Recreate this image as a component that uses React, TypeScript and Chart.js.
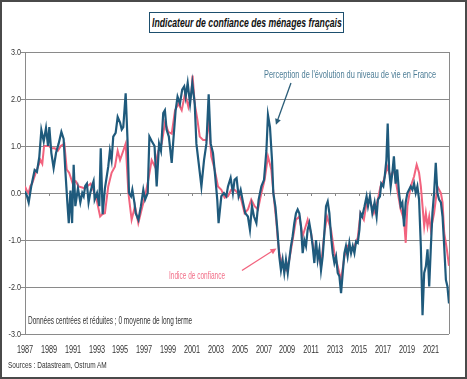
import React, { useEffect, useLayoutEffect, useRef, useState } from "react";
import { Chart, registerables } from "chart.js";

Chart.register(...registerables);

// ---------- DATA ----------
const perceptionDates = [
  1987.0, 1987.15, 1987.31, 1987.53, 1987.81, 1988.0, 1988.2, 1988.37, 1988.57, 1988.76, 1988.93,
  1989.04, 1989.21, 1989.4, 1989.6, 1989.82, 1990.05, 1990.24, 1990.38, 1990.55, 1990.67, 1990.81,
  1990.95, 1991.08, 1991.22, 1991.44, 1991.64, 1991.8, 1991.92, 1992.05, 1992.19, 1992.33, 1992.47,
  1992.61, 1992.75, 1992.84, 1993.04, 1993.23, 1993.35, 1993.51, 1993.7, 1993.98, 1994.12, 1994.26,
  1994.4, 1994.6, 1994.77, 1994.97, 1995.11, 1995.24, 1995.44, 1995.6, 1995.72, 1995.89, 1996.0,
  1996.17, 1996.28, 1996.51, 1996.72, 1996.92, 1997.07, 1997.29, 1997.43, 1997.63, 1997.86, 1998.04,
  1998.24, 1998.4, 1998.59, 1998.73, 1998.87, 1999.06, 1999.3, 1999.44, 1999.63, 1999.79, 1999.99,
  2000.18, 2000.35, 2000.47, 2000.64, 2000.84, 2001.03, 2001.23, 2001.37, 2001.56, 2001.79, 2002.01,
  2002.21, 2002.4, 2002.57, 2002.76, 2002.95, 2003.12, 2003.23, 2003.46, 2003.68, 2003.88, 2004.02,
  2004.24, 2004.43, 2004.57, 2004.74, 2004.91, 2005.08, 2005.28, 2005.47, 2005.69, 2005.86, 2006.03,
  2006.2, 2006.4, 2006.59, 2006.82, 2007.04, 2007.24, 2007.37, 2007.54, 2007.71, 2007.82, 2008.0,
  2008.18, 2008.32, 2008.46, 2008.6, 2008.74, 2008.88, 2009.03, 2009.16, 2009.3, 2009.44, 2009.58,
  2009.72, 2009.86, 2010.0, 2010.14, 2010.28, 2010.42, 2010.56, 2010.7, 2010.84, 2010.98, 2011.12,
  2011.26, 2011.4, 2011.54, 2011.68, 2011.82, 2011.96, 2012.1, 2012.24, 2012.38, 2012.52, 2012.66,
  2012.8, 2012.94, 2013.08, 2013.22, 2013.36, 2013.5, 2013.64, 2013.78, 2013.91, 2014.05, 2014.2,
  2014.34, 2014.48, 2014.62, 2014.76, 2014.9, 2015.04, 2015.13, 2015.27, 2015.47, 2015.64, 2015.76,
  2015.92, 2016.12, 2016.31, 2016.48, 2016.59, 2016.76, 2016.87, 2017.04, 2017.16, 2017.3, 2017.41,
  2017.53, 2017.66, 2017.8, 2017.93, 2018.07, 2018.21, 2018.36, 2018.5, 2018.64, 2018.78, 2018.92,
  2019.06, 2019.2, 2019.34, 2019.48, 2019.62, 2019.76, 2019.9, 2020.04, 2020.19, 2020.33, 2020.47,
  2020.61, 2020.75, 2020.89, 2021.03, 2021.16, 2021.3, 2021.44, 2021.58, 2021.72, 2021.87, 2022.01,
  2022.15, 2022.29, 2022.42, 2022.55,
];
const perceptionValues = [
  0.03, -0.05, -0.2, 0.15, 0.49, 0.45, 0.77, 1.34, 1.1, 1.38, 1.0,
  1.4, 0.85, 0.53, 0.85, 1.05, 1.3, 1.15, 0.49, -0.2, -0.64, 0.05,
  -0.64, 0.6, -0.28, 0.1, -0.2, 0.0, -0.07, 0.15, 0.2, -0.2, 0.0,
  0.14, 0.25, -0.14, 0.0, -0.28, 0.95, -0.45, 0.1, 0.56, 0.9, 0.7,
  1.2, 1.28, 1.62, 1.5, 1.35, 1.4, 2.12, 1.1, 0.0, -0.07, 0.07,
  -0.2, -0.43, -0.57, -0.28, 0.07, -0.14, 0.0, 1.2, 1.1, 1.0, 0.14,
  1.05, 0.9, 1.7, 1.76, 1.35, 1.2, 0.64, 1.13, 1.76, 2.05, 1.9,
  2.2, 2.27, 2.05, 2.34, 1.9, 2.34, 1.9, 1.05, 0.64, 0.14, 0.7,
  1.05, 2.1, 1.05, 0.85, 0.35, -0.14, -0.64, -0.07, 0.0, -0.07, 0.14,
  0.32, 0.0, 0.28, 0.32, -0.07, 0.07, -0.2, -0.43, -0.5, -0.78, -0.28,
  -0.5, -0.64, -0.14, 0.14, 0.28, 0.9, 1.66, 1.4, 0.7, 0.0, -0.3,
  -0.85, -1.35, -1.64, -1.42, -1.7, -1.42, -1.7, -1.42, -1.13, -0.92, -0.64,
  -0.43, -0.35, -0.43, -0.71, -1.28, -1.0, -1.13, -0.78, -0.64, -0.85, -1.13,
  -1.49, -1.0, -1.42, -1.2, -1.64, -1.35, -0.85, -0.28, -0.18, -0.43, -0.92,
  -1.28, -1.49, -1.35, -1.7, -1.77, -2.13, -1.7, -1.28, -1.13, -1.35, -1.06,
  -1.28, -1.13, -1.28, -1.03, -1.06, -0.78, -0.43, -0.5, -0.28, -0.07, -0.28,
  -0.07, -0.43, -0.2, -0.5, -0.14, -0.07, 0.2, 0.14, 0.35, 0.7, 1.48,
  0.5, 0.14, 0.43, 0.78, 0.2, 0.5, 0.0, -0.28, -0.2, -0.71, -0.2,
  0.0, 0.07, 0.14, 0.07, 0.2, 0.0, 0.14, -0.14, -1.14, -2.6, -1.7,
  -1.56, -1.2, -1.99, -1.14, -0.43, 0.0, 0.64, 0.0, -0.14, -0.2, -0.5,
  -1.14, -1.85, -1.99, -2.35,
];

const confidenceDates = [
  1987.0, 1987.15, 1987.3, 1987.45, 1987.6, 1988.0, 1988.3, 1988.45, 1988.6, 1989.0, 1989.25,
  1989.5, 1989.75, 1990.0, 1990.3, 1990.5, 1990.7, 1991.0, 1991.25, 1991.5, 1992.0, 1992.25,
  1992.5, 1992.75, 1993.0, 1993.3, 1993.5, 1993.7, 1993.98, 1994.26, 1994.54, 1994.77, 1994.97,
  1995.24, 1995.44, 1995.67, 1995.94, 1996.22, 1996.5, 1996.78, 1997.06, 1997.34, 1997.62, 1997.9,
  1998.18, 1998.46, 1998.74, 1999.02, 1999.3, 1999.58, 1999.86, 2000.14, 2000.42, 2000.7, 2000.95,
  2001.05, 2001.23, 2001.46, 2001.65, 2001.93, 2002.21, 2002.4, 2002.62, 2002.9, 2003.18, 2003.46,
  2003.74, 2004.02, 2004.29, 2004.57, 2004.85, 2005.13, 2005.41, 2005.69, 2005.97, 2006.25, 2006.53,
  2006.82, 2007.09, 2007.37, 2007.65, 2007.88, 2008.07, 2008.2, 2008.32, 2008.6, 2008.88, 2009.16,
  2009.44, 2009.72, 2010.0, 2010.28, 2010.7, 2010.98, 2011.26, 2011.54, 2011.82, 2012.1, 2012.32,
  2012.66, 2012.94, 2013.22, 2013.5, 2013.78, 2014.05, 2014.34, 2014.62, 2014.9, 2015.13, 2015.41,
  2015.69, 2015.97, 2016.25, 2016.53, 2016.81, 2017.09, 2017.37, 2017.64, 2017.93, 2018.21, 2018.5,
  2018.78, 2018.92, 2019.06, 2019.34, 2019.62, 2019.84, 2020.04, 2020.19, 2020.33, 2020.47, 2020.61,
  2020.75, 2020.89, 2021.03, 2021.3, 2021.58, 2021.87, 2022.01, 2022.15, 2022.37, 2022.55,
];
const confidenceValues = [
  0.14, 0.05, 0.0, 0.15, 0.2, 0.5, 0.7, 0.62, 1.0, 1.0, 0.95,
  0.95, 0.9, 1.0, 1.05, 0.5, 0.43, 0.2, 0.25, 0.14, 0.1, 0.15,
  0.2, 0.05, -0.14, -0.5, -0.45, -0.43, 0.14, 0.43, 0.56, 0.9, 0.7,
  0.9, 1.05, 0.0, -0.57, -0.28, -0.64, -0.35, -0.07, 0.28, 0.7, 0.56,
  0.9, 1.05, 1.5, 1.3, 1.26, 1.76, 1.9, 1.76, 2.12, 1.83, 2.12,
  2.5, 1.9, 1.55, 1.2, 1.13, 1.13, 1.55, 0.78, 0.5, 0.14, 0.07,
  -0.1, -0.07, 0.07, 0.07, 0.0, -0.14, -0.43, -0.35, -0.14, -0.28, -0.35,
  0.0, 0.28, 0.78, 0.5, -0.14, -0.6, -1.0, -1.28, -1.56, -1.64, -1.42,
  -1.0, -0.57, -0.5, -0.92, -0.57, -0.85, -1.28, -1.28, -1.56, -0.85, -0.5,
  -0.78, -1.28, -1.56, -1.85, -1.35, -1.13, -1.2, -1.13, -0.95, -0.43, -0.57,
  -0.14, -0.2, -0.43, -0.2, 0.14, 0.28, 0.56, 0.35, 0.5, 0.07, -0.35,
  -0.57, -1.06, -0.28, 0.14, 0.35, 0.6, 0.43, 0.14, -0.28, -0.71, -0.43,
  -0.71, -0.5, -0.78, -0.43, 0.14, 0.0, -0.2, -0.85, -1.2, -1.55,
];

const xTickYears = [1987, 1989, 1991, 1993, 1995, 1997, 1999, 2001, 2003, 2005, 2007, 2009, 2011, 2013, 2015, 2017, 2019, 2021];
const yTickValues = [-3, -2, -1, 0, 1, 2, 3];

const titleText = "Indicateur de confiance des ménages français";
const perceptionLabel = "Perception de l'évolution du niveau de vie en France";
const confidenceLabel = "Indice de confiance";
const noteText = "Données centrées et réduites ; 0 moyenne de long terme";
const sourceText = "Sources : Datastream, Ostrum AM";

// arrows in data units: [fromYear, fromValue, toYear, toValue]
const perceptionArrow = [2009.3, 2.34, 2008.04, 1.45];
const confidenceArrow = [2005.19, -1.65, 2008.08, -1.18];

// ---------- STYLE ----------
const W = 467;
const H = 379;
const TEAL = "#1f5a7c";
const PINK = "#f2637e";
const GRID = "#8a8a8a";
const TEXT_FONT = '"Liberation Sans", Arial, sans-serif';

function drawArrow(ctx: CanvasRenderingContext2D, x1: number, y1: number, x2: number, y2: number, color: string) {
  const ang = Math.atan2(y2 - y1, x2 - x1);
  const L = 6;
  const Wd = 3;
  const c = Math.cos(ang);
  const s = Math.sin(ang);
  ctx.save();
  ctx.strokeStyle = color;
  ctx.fillStyle = color;
  ctx.lineWidth = 1.3;
  ctx.beginPath();
  ctx.moveTo(x1, y1);
  ctx.lineTo(x2 - L * c * 0.8, y2 - L * s * 0.8);
  ctx.stroke();
  ctx.beginPath();
  ctx.moveTo(x2, y2);
  ctx.lineTo(x2 - L * c + Wd * s, y2 - L * s - Wd * c);
  ctx.lineTo(x2 - L * c - Wd * s, y2 - L * s + Wd * c);
  ctx.closePath();
  ctx.fill();
  ctx.restore();
}

const decorPlugin = {
  id: "decor",
  beforeDatasetsDraw(chart: any) {
    const { ctx, chartArea, scales } = chart;
    const xs = scales.x;
    const ys = scales.y;
    ctx.save();
    ctx.strokeStyle = GRID;
    ctx.lineWidth = 1;
    ctx.beginPath();
    const r = Math.round(chartArea.right) + 0.5;
    ctx.moveTo(r, chartArea.top);
    ctx.lineTo(r, chartArea.bottom);
    const y0 = ys.getPixelForValue(0);
    xTickYears.forEach((v) => {
      const px = Math.round(xs.getPixelForValue(v)) + 0.5;
      ctx.moveTo(px, y0);
      ctx.lineTo(px, y0 + 3);
    });
    ctx.stroke();
    ctx.restore();
  },
  afterDatasetsDraw(chart: any) {
    const { ctx, scales } = chart;
    const xs = scales.x;
    const ys = scales.y;
    const a = perceptionArrow;
    drawArrow(ctx, xs.getPixelForValue(a[0]), ys.getPixelForValue(a[1]), xs.getPixelForValue(a[2]), ys.getPixelForValue(a[3]), "#2b5d78");
    const b = confidenceArrow;
    drawArrow(ctx, xs.getPixelForValue(b[0]), ys.getPixelForValue(b[1]), xs.getPixelForValue(b[2]), ys.getPixelForValue(b[3]), "#f2637e");
  },
};

type Anchor = "left" | "center" | "right";

function Fit(props: {
  text: string;
  left: number;
  top: number;
  width?: number;
  scale?: number;
  anchor?: Anchor;
  style?: React.CSSProperties;
}) {
  const ref = useRef<HTMLSpanElement>(null);
  const [sx, setSx] = useState(props.scale ?? 1);
  const anchor = props.anchor ?? "left";
  useLayoutEffect(() => {
    if (props.width === undefined) return;
    const measure = () => {
      if (!ref.current) return;
      const w = ref.current.offsetWidth;
      if (w > 0) setSx((props.width as number) / w);
    };
    measure();
    if ((document as any).fonts && (document as any).fonts.ready) {
      (document as any).fonts.ready.then(measure);
    }
  }, [props.text, props.width]);
  const shift = anchor === "left" ? "0" : anchor === "center" ? "-50%" : "-100%";
  return (
    <span
      ref={ref}
      style={{
        position: "absolute",
        left: props.left,
        top: props.top,
        whiteSpace: "nowrap",
        transform: `translateX(${shift}) scaleX(${sx})`,
        transformOrigin: anchor === "left" ? "left top" : anchor === "center" ? "center top" : "right top",
        fontFamily: TEXT_FONT,
        lineHeight: 1,
        ...props.style,
      }}
    >
      {props.text}
    </span>
  );
}

type TickPos = { label: string; pos: number };

export default function App() {
  const canvasRef = useRef<HTMLCanvasElement>(null);
  const [xTicks, setXTicks] = useState<TickPos[]>([]);
  const [yTicks, setYTicks] = useState<TickPos[]>([]);

  useEffect(() => {
    if (!canvasRef.current) return;
    const chart = new Chart(canvasRef.current, {
      type: "line",
      data: {
        datasets: [
          {
            label: perceptionLabel,
            data: perceptionDates.map((d, i) => ({ x: d, y: perceptionValues[i] })),
            borderColor: TEAL,
            borderWidth: 2.2,
            pointRadius: 0,
            tension: 0,
            order: 0,
          },
          {
            label: confidenceLabel,
            data: confidenceDates.map((d, i) => ({ x: d, y: confidenceValues[i] })),
            borderColor: PINK,
            borderWidth: 2,
            pointRadius: 0,
            tension: 0,
            order: 1,
          },
        ],
      },
      options: {
        animation: false,
        responsive: false,
        maintainAspectRatio: false,
        layout: { padding: { top: 52, right: 18, bottom: 0, left: 0 } },
        plugins: {
          legend: { display: false },
          tooltip: { enabled: false },
          title: { display: false },
        },
        scales: {
          x: {
            type: "linear",
            min: 1987,
            max: 2022.55,
            grid: { display: false },
            border: { display: false },
            afterFit: (s: any) => {
              s.height = 45;
            },
            afterBuildTicks: (s: any) => {
              s.ticks = xTickYears.map((v) => ({ value: v }));
            },
            ticks: { display: false, autoSkip: false, maxRotation: 0 },
          },
          y: {
            min: -3,
            max: 3,
            afterFit: (s: any) => {
              s.width = 25;
            },
            afterBuildTicks: (s: any) => {
              s.ticks = yTickValues.map((v) => ({ value: v }));
            },
            grid: { color: GRID, lineWidth: 1, tickLength: 4 },
            border: { display: true, color: GRID, width: 1 },
            ticks: { display: false },
          },
        },
      },
      plugins: [decorPlugin],
    } as any);
    const xs: any = chart.scales.x;
    const ys: any = chart.scales.y;
    setXTicks(xTickYears.map((v) => ({ label: String(v), pos: xs.getPixelForValue(v) })));
    setYTicks(yTickValues.map((v) => ({ label: v.toFixed(1), pos: ys.getPixelForValue(v) })));
    return () => chart.destroy();
  }, []);

  return (
    <div style={{ position: "absolute", left: 0, top: 0, width: W, height: H, background: "#fff", overflow: "hidden" }}>
      <canvas ref={canvasRef} width={W} height={H} style={{ position: "absolute", left: 0, top: 0, width: W, height: H }} />
      {xTicks.map((t) => (
        <Fit key={"x" + t.label} text={t.label} left={t.pos} top={343.8} width={16} anchor="center" style={{ fontSize: 10.5, color: "#333" }} />
      ))}
      {yTicks.map((t) => (
        <Fit key={"y" + t.label} text={t.label} left={20.5} top={t.pos - 4.2} scale={0.85} anchor="right" style={{ fontSize: 8.5, color: "#333" }} />
      ))}
      <div
        style={{
          position: "absolute",
          left: 149,
          top: 12,
          width: 195,
          height: 21,
          border: "1.5px solid #1d4f6e",
          boxSizing: "border-box",
          background: "#fff",
        }}
      />
      <Fit text={titleText} left={152} top={15.5} width={190} style={{ fontSize: 13, fontWeight: "bold", fontStyle: "italic", color: "#111" }} />
      <Fit text={perceptionLabel} left={264} top={70} width={172} style={{ fontSize: 10, color: "#4d7d96" }} />
      <Fit text={confidenceLabel} left={169} top={270.5} width={56} style={{ fontSize: 10, color: "#f26f88" }} />
      <Fit text={noteText} left={27.5} top={315.5} width={164} style={{ fontSize: 10, color: "#333" }} />
      <Fit text={sourceText} left={8.3} top={360} width={99} style={{ fontSize: 9.5, color: "#333" }} />
      <div
        style={{
          position: "absolute",
          left: 0,
          top: 0,
          width: W,
          height: H,
          border: "2px solid #4a4a4a",
          boxSizing: "border-box",
          pointerEvents: "none",
        }}
      />
    </div>
  );
}
